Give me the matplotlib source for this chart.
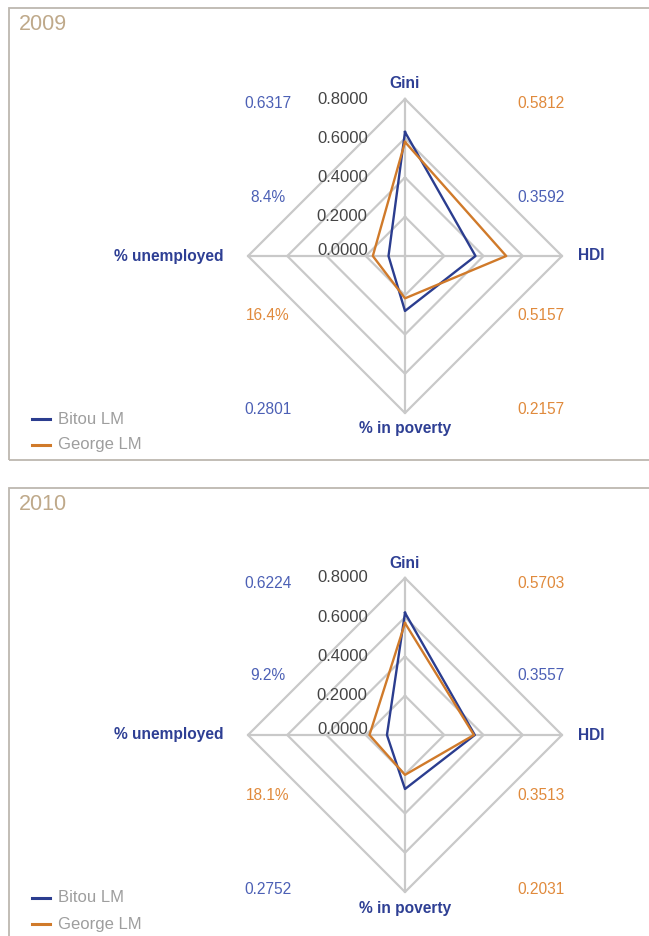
import numpy as np
import matplotlib.pyplot as plt
from matplotlib.patches import Rectangle

plt.rcParams['font.family'] = ['Liberation Sans', 'DejaVu Sans']

# spokes, clockwise from the top
categories = ['Gini', 'HDI', '% in poverty', '% unemployed']
angles = np.deg2rad([90, 0, 270, 180])

years = ['2009', '2010']
bitou = {'2009': [0.6317, 0.3592, 0.2801, 8.4],
         '2010': [0.6224, 0.3557, 0.2752, 9.2]}
george = {'2009': [0.5812, 0.5157, 0.2157, 16.4],
          '2010': [0.5703, 0.3513, 0.2031, 18.1]}
ring_levels = [0.2, 0.4, 0.6, 0.8]
tick_labels = ['0.0000', '0.2000', '0.4000', '0.6000', '0.8000']

BLUE = '#2b3d8f'
ORANGE = '#d07a2a'
BLUE_TXT = '#4c60b5'
ORANGE_TXT = '#e08a3c'
LABEL_BLUE = '#2e3f94'
GRID = '#c9c9c9'

W, H = 649, 936
K = 157 / 0.8  # pixels per unit of value
fig = plt.figure(figsize=(W / 100, H / 100), dpi=100)


def to_xy(vals):
    v = np.array(vals, dtype=float)
    v[3] = v[3] / 100.0  # unemployment is given in percent
    x = v * np.cos(angles)
    y = v * np.sin(angles)
    return np.append(x, x[0]), np.append(y, y[0])


def fmt(v, i):
    return f'{v:.1f}%' if i == 3 else f'{v:.4f}'


def panel(year, top, bottom, cx, cy, box_top, box_bottom):
    ax = fig.add_axes([0, 1 - bottom / H, 1, (bottom - top) / H])
    ax.set_xlim(-cx / K, (W - cx) / K)
    ax.set_ylim(-(bottom - cy) / K, (cy - top) / K)
    ax.axis('off')

    # panel frame
    fig.patches.append(Rectangle((9 / W, 1 - box_bottom / H), 700 / W,
                                 (box_bottom - box_top) / H,
                                 transform=fig.transFigure, fill=False,
                                 edgecolor='#bdb8b0', linewidth=1.3))
    fig.text(19 / W, 1 - (box_top + 17) / H, year, fontsize=15.5,
             color='#bfa98a', va='center', ha='left')

    # grid rings and spokes
    for r in ring_levels:
        gx, gy = to_xy([r, r, r, r * 100])
        ax.plot(gx, gy, color=GRID, lw=1.6, zorder=1)
    for a in angles:
        ax.plot([0, 0.8 * np.cos(a)], [0, 0.8 * np.sin(a)], color=GRID, lw=1.6, zorder=1)

    for i, t in enumerate(tick_labels):
        yy = i * 0.2 + (0.03 if i == 0 else 0)
        ax.text(-0.19, yy, t, ha='right', va='center', fontsize=12, color='#444444', zorder=2)

    bx, by = to_xy(bitou[year])
    gx, gy = to_xy(george[year])
    ax.plot(bx, by, color=BLUE, lw=1.7, zorder=3)
    ax.plot(gx, gy, color=ORANGE, lw=1.7, zorder=3)

    # category labels
    kw = dict(va='center', fontsize=11.2, color=LABEL_BLUE, fontweight='bold')
    ax.text(0, 172 / K, categories[0], ha='center', **kw)
    ax.text(173 / K, 0, categories[1], ha='left', **kw)
    ax.text(0, -173 / K, categories[2], ha='center', **kw)
    ax.text(-181 / K, 0, categories[3], ha='right', **kw)

    # value labels beside each spoke
    lx, rx = -137 / K, 136 / K
    b, g = bitou[year], george[year]
    spots = [(lx, 152, fmt(b[0], 0), BLUE_TXT), (rx, 152, fmt(g[0], 0), ORANGE_TXT),
             (rx, 59, fmt(b[1], 1), BLUE_TXT), (rx, -60, fmt(g[1], 1), ORANGE_TXT),
             (lx, -154, fmt(b[2], 2), BLUE_TXT), (rx, -154, fmt(g[2], 2), ORANGE_TXT),
             (lx, 59, fmt(b[3], 3), BLUE_TXT), (lx, -60, fmt(g[3], 3), ORANGE_TXT)]
    for x, y, s, c in spots:
        ax.text(x, y / K, s, ha='center', va='center', fontsize=11.2, color=c)

    # legend
    for dy, name, c in [(-163, 'Bitou LM', BLUE), (-189, 'George LM', ORANGE)]:
        ax.plot([(32 - cx) / K, (50 - cx) / K], [dy / K, dy / K], color=c, lw=2.2)
        ax.text((58 - cx) / K, dy / K, name, ha='left', va='center', fontsize=12,
                color='#9e9e9e')


panel('2009', 0, 470, 405, 256, 8, 460)
panel('2010', 470, 936, 405, 735, 488, 1000)

fig.savefig('out.png', dpi=100)
